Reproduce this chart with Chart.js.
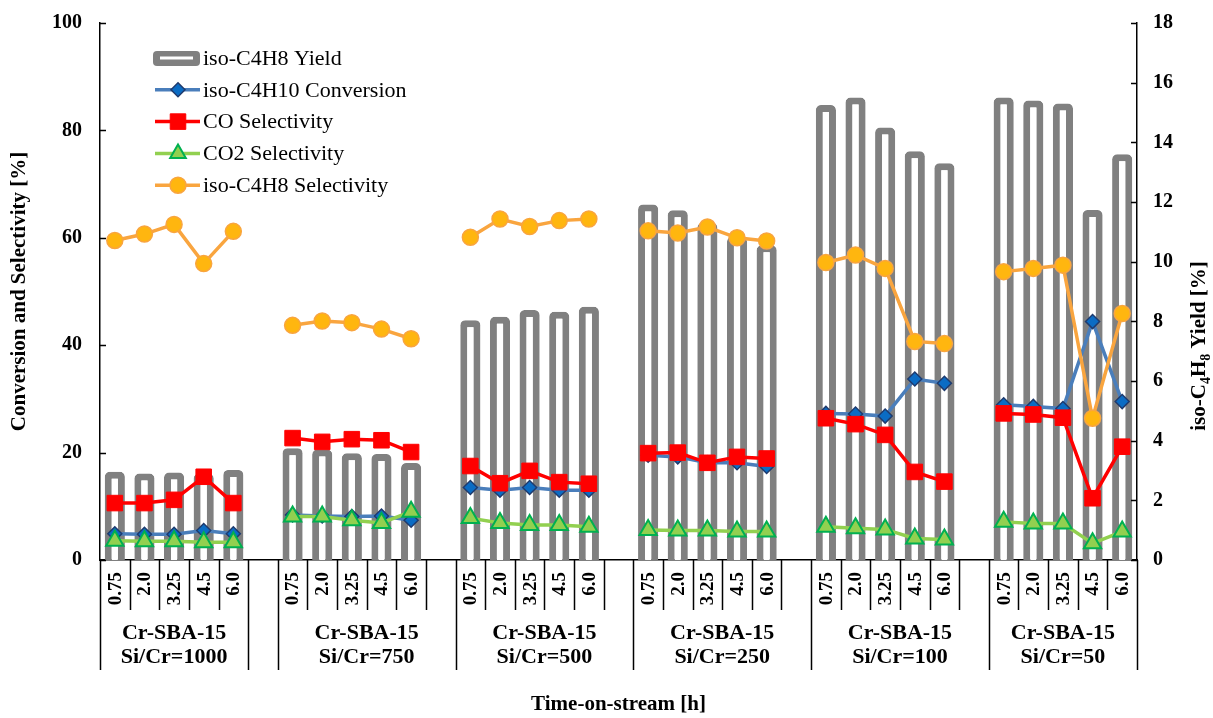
<!DOCTYPE html>
<html lang="en">
<head>
<meta charset="utf-8" />
<title>Cr-SBA-15 time-on-stream</title>
<script src="https://cdn.jsdelivr.net/npm/chart.js@4.4.1/dist/chart.umd.min.js"></script>
<style>
  html, body { margin: 0; padding: 0; background: #fff; }
</style>
</head>
<body>
<canvas id="chart" width="1213" height="718"></canvas>
<script>
// time-on-stream points inside every catalyst group
const times = ['0.75', '2.0', '3.25', '4.5', '6.0']
const catalysts = ['Si/Cr=1000', 'Si/Cr=750', 'Si/Cr=500', 'Si/Cr=250', 'Si/Cr=100', 'Si/Cr=50']

// values per group, 5 per catalyst, same order as catalysts
const yieldC4H8 = [
  2.96, 2.90, 2.93, 2.90, 3.02,
  3.75, 3.70, 3.58, 3.55, 3.25,
  8.04, 8.15, 8.38, 8.32, 8.49,
  11.92, 11.72, 11.30, 10.83, 10.55,
  15.25, 15.50, 14.50, 13.70, 13.30,
  15.50, 15.40, 15.30, 11.73, 13.60,
]
const conversion = [
  4.9, 4.8, 4.8, 5.5, 4.9,
  8.4, 8.2, 8.1, 8.2, 7.4,
  13.5, 13.0, 13.5, 13.0, 13.0,
  19.5, 19.2, 18.1, 18.1, 17.4,
  27.3, 27.2, 26.8, 33.7, 32.9,
  28.9, 28.6, 28.2, 44.4, 29.5,
]
const coSel = [
  10.6, 10.6, 11.2, 15.5, 10.6,
  22.7, 22.0, 22.5, 22.3, 20.1,
  17.5, 14.3, 16.6, 14.5, 14.2,
  19.9, 20.0, 18.1, 19.2, 18.9,
  26.4, 25.3, 23.3, 16.4, 14.6,
  27.3, 27.1, 26.5, 11.5, 21.1,
]
const co2Sel = [
  3.6, 3.5, 3.5, 3.3, 3.3,
  8.1, 8.1, 7.4, 6.9, 9.0,
  7.8, 6.9, 6.5, 6.5, 6.2,
  5.6, 5.5, 5.5, 5.3, 5.3,
  6.2, 5.9, 5.7, 4.0, 3.8,
  7.1, 6.8, 6.8, 3.1, 5.3,
]
const c4h8Sel = [
  59.5, 60.7, 62.5, 55.2, 61.2,
  43.7, 44.5, 44.2, 43.0, 41.2,
  60.1, 63.5, 62.1, 63.2, 63.5,
  61.3, 60.9, 62.0, 60.0, 59.4,
  55.4, 56.8, 54.3, 40.7, 40.3,
  53.7, 54.3, 54.9, 26.4, 45.9,
]

const leftTicks = [0, 20, 40, 60, 80, 100]
const rightTicks = [0, 2, 4, 6, 8, 10, 12, 14, 16, 18]

// every group takes 6 slots (5 points + 1 empty), the last one has no empty slot
const SLOTS = catalysts.length * 6 - 1
const labels = Array.from({ length: SLOTS }, (_, i) => (i % 6 < 5 ? times[i % 6] : ''))

function spread(vals) {
  const out = new Array(SLOTS).fill(null)
  vals.forEach((v, i) => { out[Math.floor(i / 5) * 6 + (i % 5)] = v })
  return out
}

const serif = "'Liberation Serif', 'Times New Roman', serif"
const black = '#000'

const decor = {
  id: 'decor',
  afterDraw(chart) {
    const { ctx, chartArea: a, scales } = chart
    const x = scales.x, yl = scales.y, yr = scales.y1
    const half = (x.getPixelForValue(1) - x.getPixelForValue(0)) / 2
    const edge = (i) => x.getPixelForValue(i) - half
    ctx.save()
    ctx.strokeStyle = black
    ctx.lineWidth = 1.5

    // inner tick marks on the value axes
    ctx.beginPath()
    leftTicks.forEach((v) => {
      const py = Math.round(yl.getPixelForValue(v)) + 0.5
      ctx.moveTo(a.left, py); ctx.lineTo(a.left + 6, py)
    })
    rightTicks.forEach((v) => {
      const py = Math.round(yr.getPixelForValue(v)) + 0.5
      ctx.moveTo(a.right, py); ctx.lineTo(a.right - 6, py)
    })
    ctx.stroke()

    // category separators: short for each cell, long for groups
    const tall = [0, 5, 6, 12, 18, 24, 30, SLOTS]
    ctx.beginPath()
    for (let i = 0; i <= SLOTS; i++) {
      const px = Math.round(edge(i)) + 0.5
      ctx.moveTo(px, a.bottom)
      ctx.lineTo(px, tall.includes(i) ? a.bottom + 110 : a.bottom + 50)
    }
    ctx.stroke()

    // rotated time labels
    ctx.fillStyle = black
    ctx.font = `bold 19px ${serif}`
    ctx.textAlign = 'right'
    ctx.textBaseline = 'middle'
    labels.forEach((l, i) => {
      if (!l) return
      ctx.save()
      ctx.translate(x.getPixelForValue(i) + 1, a.bottom + 12)
      ctx.rotate(-Math.PI / 2)
      ctx.fillText(l, 0, 0)
      ctx.restore()
    })

    // group labels
    ctx.font = `bold 22px ${serif}`
    ctx.textAlign = 'center'
    catalysts.forEach((c, g) => {
      const s = g === 0 ? 0 : g * 6
      const e = g === 0 ? 5 : Math.min(g * 6 + 6, SLOTS)
      const cx = (edge(s) + edge(e)) / 2
      ctx.fillText('Cr-SBA-15', cx, a.bottom + 73)
      ctx.fillText(c, cx, a.bottom + 97)
    })

    // axis titles
    ctx.font = `bold 21px ${serif}`
    ctx.fillText('Time-on-stream [h]', (a.left + a.right) / 2, 705)

    ctx.save()
    ctx.translate(20, (a.top + a.bottom) / 2)
    ctx.rotate(-Math.PI / 2)
    ctx.fillText('Conversion and Selectivity [%]', 0, 0)
    ctx.restore()

    // right title with subscripts
    const parts = [['iso-C', 0], ['4', 1], ['H', 0], ['8', 1], [' Yield [%]', 0]]
    const big = `bold 21px ${serif}`, small = `bold 14px ${serif}`
    let total = 0
    parts.forEach(([t, sub]) => { ctx.font = sub ? small : big; total += ctx.measureText(t).width })
    ctx.save()
    ctx.translate(1200, 346)
    ctx.rotate(-Math.PI / 2)
    ctx.textAlign = 'left'
    let cur = -total / 2
    parts.forEach(([t, sub]) => {
      ctx.font = sub ? small : big
      ctx.fillText(t, cur, sub ? 6 : 0)
      cur += ctx.measureText(t).width
    })
    ctx.restore()

    // legend
    const ds = chart.data.datasets
    const items = [4, 0, 1, 2, 3]
    ctx.font = `22px ${serif}`
    ctx.textAlign = 'left'
    items.forEach((di, row) => {
      const d = ds[di]
      const cy = 58 + row * 31.8
      if (d.type === 'bar') {
        ctx.fillStyle = '#808080'
        ctx.beginPath(); ctx.roundRect(153, cy - 7, 47, 15, 4); ctx.fill()
        ctx.fillStyle = '#fff'
        ctx.fillRect(160, cy - 1.5, 33, 3)
      } else {
        ctx.strokeStyle = d.borderColor
        ctx.lineWidth = d.borderWidth
        ctx.beginPath(); ctx.moveTo(155, cy); ctx.lineTo(200, cy); ctx.stroke()
        ctx.fillStyle = d.pointBackgroundColor
        ctx.strokeStyle = d.pointBorderColor
        ctx.lineWidth = d.pointBorderWidth
        Chart.helpers.drawPoint(ctx, {
          pointStyle: d.pointStyle, radius: d.legendRadius, rotation: 0, borderWidth: d.pointBorderWidth,
        }, 178, cy)
      }
      ctx.fillStyle = black
      ctx.fillText(d.label, 203, cy + 1)
    })
    ctx.restore()
  },
}

new Chart(document.getElementById('chart'), {
  type: 'bar',
  data: {
    labels,
    datasets: [
      {
        type: 'line', label: 'iso-C4H10 Conversion', data: spread(conversion), yAxisID: 'y',
        borderColor: '#4A7EBB', borderWidth: 3.5, spanGaps: false,
        pointStyle: 'rectRot', pointRadius: 7, legendRadius: 7,
        pointBackgroundColor: '#0B6CC4', pointBorderColor: '#1F3B6E', pointBorderWidth: 1.5, order: 4,
      },
      {
        type: 'line', label: 'CO Selectivity', data: spread(coSel), yAxisID: 'y',
        borderColor: '#FF0000', borderWidth: 3.5, spanGaps: false,
        pointStyle: 'rect', pointRadius: 11, legendRadius: 11,
        pointBackgroundColor: '#FF0000', pointBorderColor: '#FF0000', pointBorderWidth: 1, order: 3,
      },
      {
        type: 'line', label: 'CO2 Selectivity', data: spread(co2Sel), yAxisID: 'y',
        borderColor: '#92D050', borderWidth: 3.5, spanGaps: false,
        pointStyle: 'triangle', pointRadius: 10, legendRadius: 9,
        pointBackgroundColor: '#92D050', pointBorderColor: '#00B050', pointBorderWidth: 2, order: 2,
      },
      {
        type: 'line', label: 'iso-C4H8 Selectivity', data: spread(c4h8Sel), yAxisID: 'y',
        borderColor: '#F9A53F', borderWidth: 3.5, spanGaps: false,
        pointStyle: 'circle', pointRadius: 8, legendRadius: 8,
        pointBackgroundColor: '#FFB60F', pointBorderColor: '#F9A53F', pointBorderWidth: 1.5, order: 1,
      },
      {
        type: 'bar', label: 'iso-C4H8 Yield', data: spread(yieldC4H8), yAxisID: 'y1',
        backgroundColor: '#FFFFFF', borderColor: '#808080', borderWidth: 7, borderRadius: 5,
        borderSkipped: 'start', barPercentage: 0.68, categoryPercentage: 1, order: 5,
      },
    ],
  },
  options: {
    responsive: false,
    animation: false,
    devicePixelRatio: 1,
    layout: { padding: { top: 23, bottom: 0, left: 0, right: 0 } },
    plugins: { legend: { display: false }, tooltip: { enabled: false } },
    scales: {
      x: {
        offset: true,
        grid: { display: false, drawTicks: false },
        border: { display: true, color: black, width: 1.5 },
        ticks: { display: false },
        afterFit(s) { s.height = 158; s.paddingLeft = 0; s.paddingRight = 0 },
      },
      y: {
        position: 'left', min: 0, max: 100,
        grid: { display: false, drawTicks: false },
        border: { display: true, color: black, width: 1.5 },
        ticks: { stepSize: 20, padding: 18, color: black, font: { family: serif, size: 20, weight: 'bold' } },
        afterFit(s) { s.width = 100; s.paddingTop = 0; s.paddingBottom = 0 },
      },
      y1: {
        position: 'right', min: 0, max: 18,
        grid: { display: false, drawTicks: false },
        border: { display: true, color: black, width: 1.5 },
        ticks: { stepSize: 2, padding: 16, color: black, font: { family: serif, size: 20, weight: 'bold' } },
        afterFit(s) { s.width = 76; s.paddingTop = 0; s.paddingBottom = 0 },
      },
    },
  },
  plugins: [decor],
})
</script>
</body>
</html>
